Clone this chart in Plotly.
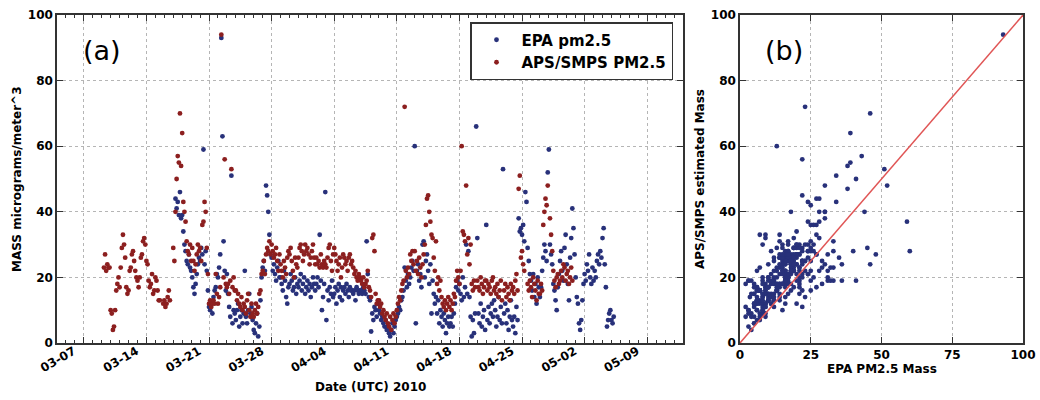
import pandas as pd
import plotly.graph_objects as go

N = None

# ---------------- data (3-hourly samples) ----------------
first_day = "2010-03-09"
hours = [0, 3, 6, 9, 12, 15, 18, 21]

aps_by_day = [
    [N, N, 23, 27, 22, 24, 23, 23],      # 03-09
    [10, 9, 4, 5, 10, 16, 18, 20],       # 03-10
    [17, 23, 29, 33, 30, 26, 17, 15],    # 03-11
    [16, 22, 23, 27, 28, 25, 22, 20],    # 03-12
    [19, 17, 20, 26, 27, 31, 32, 30],    # 03-13
    [25, 24, 19, 17, 18, 21, 15, 16],    # 03-14
    [20, 19, 16, 13, 13, N, N, 12],      # 03-15
    [13, 11, 12, 14, 16, 13, N, N],      # 03-16
    [29, 25, 40, 50, 57, 55, 70, 54],    # 03-17
    [64, 43, 40, 37, 31, 28, 27, 30],    # 03-18
    [25, 29, 25, 22, 24, 27, 30, 28],    # 03-19
    [29, 25, 36, 37, 43, 40, 29, 21],    # 03-20
    [12, 13, 11, 12, 13, 12, 21, 15],    # 03-21
    [12, 14, 17, 94, N, 20, 56, 18],     # 03-22
    [17, 18, 15, 19, 53, 17, 20, 16],    # 03-23
    [16, 13, 15, 12, 11, 14, 10, 12],    # 03-24
    [11, 9, 13, 15, 10, 8, 12, 9],       # 03-25
    [8, 10, 12, 9, 11, 15, 16, 21],      # 03-26
    [22, 25, 21, 27, 29, 28, 31, 27],    # 03-27
    [30, 28, 26, 27, 29, 25, 22, 27],    # 03-28
    [24, 22, 20, 25, 23, 21, 26, 28],    # 03-29
    [27, 29, 25, 22, 20, 26, 24, 23],    # 03-30
    [26, 29, 30, 28, 25, 27, 30, 28],    # 03-31
    [29, 27, 24, 26, 28, 30, 26, 24],    # 04-01
    [26, 24, 25, 23, 27, 24, 23, 25],    # 04-02
    [24, 23, 26, 29, 30, 25, 22, 27],    # 04-03
    [29, 27, 25, 22, 24, 26, 20, 23],    # 04-04
    [27, 26, 24, 25, 22, 26, 27, 24],    # 04-05
    [25, 23, 21, 22, 20, 19, 21, 20],    # 04-06
    [19, 18, 20, 17, 18, 19, 22, 17],    # 04-07
    [16, 14, 32, 33, 28, 15, 12, 13],    # 04-08
    [13, 11, 12, 9, 10, 8, 7, 9],        # 04-09
    [6, 5, 8, 4, 7, 9, 6, 8],            # 04-10
    [10, 12, 14, 13, 16, 18, 19, 72],    # 04-11
    [22, 20, 23, 21, 27, 25, 28, 24],    # 04-12
    [28, 22, 25, 21, 26, 23, 20, 24],    # 04-13
    [27, 30, 36, 44, 45, 40, 37, 33],    # 04-14
    [32, 26, 22, 31, 18, 20, 16, 19],    # 04-15
    [14, 12, 11, 13, 10, 12, 14, 11],    # 04-16
    [13, 10, 12, 15, 14, 19, 22, 20],    # 04-17
    [18, 22, 60, 34, 33, 31, 48, 27],    # 04-18
    [32, 24, 30, 18, 16, 19, 17, N],     # 04-19
    [19, 17, 16, 20, 18, 15, 17, 19],    # 04-20
    [19, 16, 18, 17, 15, 19, 20, 16],    # 04-21
    [17, 15, 18, 14, 16, 19, 13, N],     # 04-22
    [16, 18, 14, 17, 15, 13, 18, 16],    # 04-23
    [17, 15, 19, 21, 16, 47, 51, 26],    # 04-24
    [28, 24, 22, N, N, 18, 16, 19],      # 04-25
    [17, 14, 20, 18, 16, 13, 19, 15],    # 04-26
    [15, 18, 16, 36, 40, 44, 42, 48],    # 04-27
    [N, 38, 33, 28, 22, 19, 17, 20],     # 04-28
    [21, 18, 19, 22, 20, 24, 23, 19],    # 04-29
    [21, 22, 18, 20, 23, 19, N, N],      # 04-30
    [N, N, N, N, N, N, N, N],            # 05-01
    [N, N, N, N, N, N, N, N],            # 05-02
    [N, N, N, N, N, N, N, N],            # 05-03
    [N, N, N, N, N, N, N, N],            # 05-04
    [N, N, N, N, N, N, N, N],            # 05-05
]

epa_by_day = [
    [N, N, N, N, N, N, N, N],            # 03-09
    [N, N, N, N, N, N, N, N],            # 03-10
    [N, N, N, N, N, N, N, N],            # 03-11
    [N, N, N, N, N, N, N, N],            # 03-12
    [N, N, N, N, N, N, N, N],            # 03-13
    [N, N, N, N, N, N, N, N],            # 03-14
    [N, N, N, N, N, N, N, N],            # 03-15
    [N, N, N, N, N, N, N, N],            # 03-16
    [N, N, 44, 41, 43, 39, 46, 38],      # 03-17
    [39, 34, 30, 28, 25, 24, 27, 23],    # 03-18
    [22, 20, 17, 15, 18, 21, 24, 26],    # 03-19
    [25, 29, 27, 59, 24, 28, 22, 16],    # 03-20
    [11, 10, 12, 9, 14, 16, 17, 21],     # 03-21
    [20, 23, 27, 93, 63, 31, 22, 16],    # 03-22
    [21, 15, 11, 8, 51, 6, 10, 9],       # 03-23
    [7, 10, 12, 5, 8, 10, 6, 9],         # 03-24
    [22, 8, 6, 10, 15, 9, 11, 7],        # 03-25
    [4, 3, 6, 9, 2, 5, 13, 20],          # 03-26
    [23, 25, 22, 48, 45, 40, 33, 27],    # 03-27
    [26, 22, 24, 21, 19, 23, 25, 20],    # 03-28
    [20, 18, 16, 22, 19, 14, 12, 17],    # 03-29
    [18, 21, 19, 16, 17, 20, 15, 18],    # 03-30
    [17, 19, 21, 16, 18, 20, 15, 17],    # 03-31
    [19, 16, 18, 14, 17, 20, 18, 16],    # 04-01
    [18, 20, 17, 33, 19, 10, 14, 18],    # 04-02
    [46, 7, 16, 13, 17, 15, 19, 14],     # 04-03
    [15, 17, 12, 16, 18, 14, 17, 13],    # 04-04
    [16, 17, 15, 18, 16, 14, 17, 16],    # 04-05
    [16, 15, 16, 13, 17, 16, 15, 16],    # 04-06
    [16, 15, 17, 16, 15, 31, 21, 14],    # 04-07
    [13, 3.5, 9, 7, 11, 10, 8, 12],      # 04-08
    [10, 9, 7, 8, 6, 5, 7, 4],           # 04-09
    [5, 3, 2, 4, 6, 3, 5, 7],            # 04-10
    [8, 9, 11, 10, 13, 14, 16, 23],      # 04-11
    [19, 17, 21, 18, 20, 23, 25, 22],    # 04-12
    [60, 6, 22, 24, 19, 21, 17, 30],     # 04-13
    [31, 20, 25, 27, 22, 18, 24, 9],     # 04-14
    [19, 15, 12, 14, 9, 13, 6, 10],      # 04-15
    [8, 5, 9, 7, 3, 6, 8, 5],            # 04-16
    [6, 8, 5, 9, 12, 17, 19, 16],        # 04-17
    [18, 15, 13, 20, 14, 17, 30, 15],    # 04-18
    [28, 14, 8, 2, 7, 3, 9, 66],         # 04-19
    [32, 9, 6, 12, 5, 8, 10, 4],         # 04-20
    [36, 7, 11, 6, 9, 12, 8, 13],        # 04-21
    [10, 5, 8, 14, 7, 11, 6, 53],        # 04-22
    [9, 12, 6, 10, 4, 8, 13, 7],         # 04-23
    [5, 8, 3, 11, 7, 38, 34, 35],        # 04-24
    [33, 36, 31, 46, 43, 29, 25, 21],    # 04-25
    [19, 16, 21, 14, 18, 12, 20, 17],    # 04-26
    [14, 17, 22, 26, 30, 28, 25, 52],    # 04-27
    [59, 30, 27, 24, 18, 16, 13, 10],    # 04-28
    [17, 21, 25, 28, 22, 19, 29, 33],    # 04-29
    [24, 18, 13, 26, 32, 41, 35, 27],    # 04-30
    [20, 14, 12, 6, 4, 7, 13, 18],       # 05-01
    [21, 19, 24, 22, 27, 20, 18, 23],    # 05-02
    [19, 22, 20, 25, 27, 24, 28, 26],    # 05-03
    [32, 35, 24, 17, 5, 7, 9, 10],       # 05-04
    [7, 6, 8, N, N, N, N, N],            # 05-05
]

one_to_one = [0, 100]

# ---------------- build series ----------------
day_starts = pd.date_range(first_day, periods=len(epa_by_day), freq="D")
times = [d + pd.Timedelta(hours=h) for d in day_starts for h in hours]
epa = [v for row in epa_by_day for v in row]
aps = [v for row in aps_by_day for v in row]
pairs = [(e, a) for e, a in zip(epa, aps) if e is not None and a is not None]
pair_epa = [p[0] for p in pairs]
pair_aps = [p[1] for p in pairs]

BLUE = "#28317a"
RED = "#8c1f1f"
FONT = "DejaVu Sans"
MS = 4.8

fig = go.Figure()
fig.add_trace(go.Scatter(
    x=times, y=epa, mode="markers", name="EPA pm2.5",
    marker=dict(color=BLUE, size=MS, line=dict(width=0)),
    xaxis="x", yaxis="y"))
fig.add_trace(go.Scatter(
    x=times, y=aps, mode="markers", name="APS/SMPS PM2.5",
    marker=dict(color=RED, size=MS, line=dict(width=0)),
    xaxis="x", yaxis="y"))
fig.add_trace(go.Scatter(
    x=pair_epa, y=pair_aps, mode="markers", showlegend=False,
    marker=dict(color=BLUE, size=MS, line=dict(width=0)),
    xaxis="x2", yaxis="y2"))
fig.add_trace(go.Scatter(
    x=one_to_one, y=one_to_one, mode="lines", showlegend=False,
    line=dict(color="#e05555", width=1.5),
    xaxis="x2", yaxis="y2"))

tickfont = dict(family=FONT, size=12, color="black", weight="bold")
axis_common = dict(
    showline=True, linecolor="#333333", linewidth=1.5, mirror="ticks",
    ticks="inside", ticklen=6, tickwidth=1, tickcolor="#333333",
    showgrid=True, gridcolor="#b5b5b5", griddash="dot", gridwidth=1,
    zeroline=False, tickfont=tickfont, automargin=False,
)

ydom = [1 - 343 / 400, 1 - 15 / 400]
fig.update_layout(
    width=1040, height=400,
    margin=dict(l=0, r=0, t=0, b=0, autoexpand=False),
    paper_bgcolor="white", plot_bgcolor="white",
    xaxis=dict(
        domain=[57 / 1040, 683 / 1040],
        type="date",
        range=["2010-03-04", "2010-05-13"],
        tick0="2010-03-07", dtick=7 * 86400000, tickformat="%m-%d",
        tickangle=-30, ticklabelshift=-10, ticklabelstandoff=-5,
        minor=dict(ticks="inside", ticklen=3, dtick=86400000,
                   tick0="2010-03-07", tickcolor="#333333", showgrid=False),
        **axis_common),
    yaxis=dict(domain=ydom, range=[0, 100], dtick=20, **axis_common),
    xaxis2=dict(domain=[740 / 1040, 1023 / 1040], range=[0, 100], dtick=25,
                anchor="y2", **axis_common),
    yaxis2=dict(domain=ydom, range=[0, 100], dtick=20, anchor="x2", **axis_common),
    legend=dict(
        x=673 / 1040, xanchor="right", y=1 - 22 / 400, yanchor="top",
        bgcolor="white", bordercolor="#333333", borderwidth=1.5,
        font=dict(family=FONT, size=15, color="black", weight="bold"),
        itemwidth=40, tracegroupgap=0,
    ),
    showlegend=True,
)

title_font = dict(family=FONT, size=12, color="black", weight="bold")
annotations = [
    dict(text="Date (UTC) 2010", x=370 / 1040, y=1 - 387 / 400, font=title_font),
    dict(text="MASS micrograms/meter^3", x=17 / 1040, y=1 - 179 / 400,
         textangle=-90, font=title_font),
    dict(text="APS/SMPS estimated Mass", x=700 / 1040, y=1 - 179 / 400,
         textangle=-90, font=title_font),
    dict(text="EPA PM2.5 Mass", x=881.5 / 1040, y=1 - 369 / 400, font=title_font),
    dict(text="(a)", x=102 / 1040, y=1 - 51 / 400,
         font=dict(family=FONT, size=27, color="black")),
    dict(text="(b)", x=784 / 1040, y=1 - 51 / 400,
         font=dict(family=FONT, size=27, color="black")),
]
for a in annotations:
    a.update(xref="paper", yref="paper", showarrow=False,
             xanchor="center", yanchor="middle")
fig.update_layout(annotations=annotations)

fig.write_html(
    "out.html",
    config={"displayModeBar": False},
    post_script="document.body.style.margin='0';document.body.style.padding='0';",
)
